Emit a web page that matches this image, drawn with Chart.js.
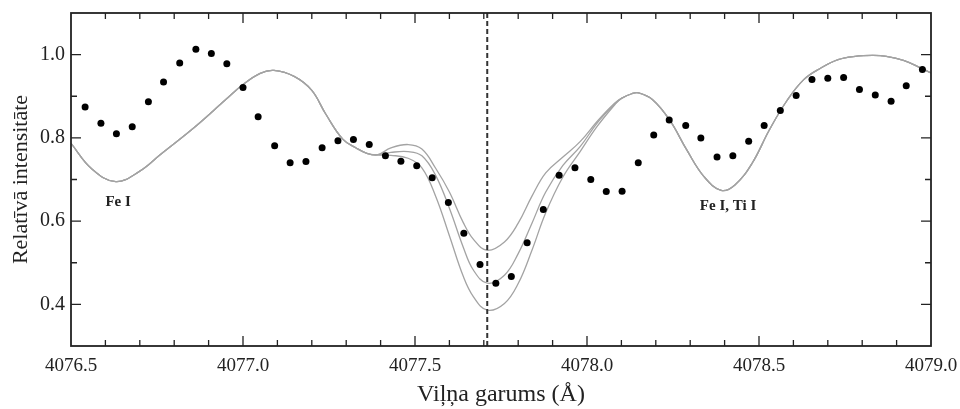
<!DOCTYPE html>
<html lang="lv">
  <head>
    <meta charset="UTF-8" />
    <title>Relatīvā intensitāte</title>
    <script src="https://cdn.jsdelivr.net/npm/chart.js"></script>
    <style>
      body { margin: 0; background: #fff; }
      #spectrum { display: block; }
    </style>
  </head>
  <body>
    <canvas id="spectrum" width="960" height="409"></canvas>

    <script>
      // novērotie punkti
      const obsX = [
        4076.541, 4076.587, 4076.632, 4076.678, 4076.725, 4076.769, 4076.816, 4076.863, 4076.908,
        4076.953, 4077.0, 4077.044, 4077.092, 4077.137, 4077.183, 4077.23, 4077.276, 4077.321,
        4077.367, 4077.414, 4077.459, 4077.505, 4077.55, 4077.597, 4077.642, 4077.689, 4077.735,
        4077.78, 4077.826, 4077.873, 4077.919, 4077.965, 4078.011, 4078.056, 4078.102, 4078.149,
        4078.194, 4078.239, 4078.287, 4078.331, 4078.378, 4078.424, 4078.47, 4078.515, 4078.562,
        4078.608, 4078.654, 4078.7, 4078.746, 4078.792, 4078.838, 4078.884, 4078.928, 4078.975,
      ];
      const obsY = [
        0.874, 0.835, 0.81, 0.827, 0.887, 0.934, 0.98, 1.013, 1.003,
        0.978, 0.921, 0.851, 0.781, 0.74, 0.743, 0.776, 0.793, 0.796,
        0.784, 0.757, 0.744, 0.733, 0.704, 0.645, 0.571, 0.496, 0.451,
        0.467, 0.548, 0.628, 0.71, 0.728, 0.7, 0.671, 0.672, 0.74,
        0.807, 0.843, 0.83, 0.8, 0.754, 0.757, 0.792, 0.83, 0.866,
        0.902, 0.94, 0.943, 0.945, 0.916, 0.903, 0.888, 0.925, 0.964,
      ];

      // modeļa līknes: kopīgā kreisā daļa
      const leftX = [
        4076.5, 4076.56, 4076.63, 4076.7, 4076.76, 4076.86, 4076.95, 4077.0,
        4077.05, 4077.09, 4077.15, 4077.2, 4077.24, 4077.29, 4077.33, 4077.36,
      ];
      const leftY = [
        0.787, 0.726, 0.695, 0.72, 0.76, 0.826, 0.892, 0.928,
        0.955, 0.962, 0.947, 0.914, 0.858, 0.797, 0.775, 0.763,
      ];

      // centrālā līnija, trīs varianti
      const centerX = [
        4077.39, 4077.43, 4077.48, 4077.52, 4077.56, 4077.6, 4077.64, 4077.67, 4077.71,
        4077.76, 4077.8, 4077.84, 4077.88, 4077.93, 4077.98, 4078.03, 4078.08,
      ];
      const shallowY = [
        0.759, 0.776, 0.784, 0.773, 0.727, 0.67, 0.597, 0.556, 0.53,
        0.55, 0.595, 0.66, 0.716, 0.754, 0.791, 0.84, 0.883,
      ];
      const middleY = [
        0.759, 0.765, 0.767, 0.757, 0.71, 0.631, 0.538, 0.482, 0.451,
        0.47, 0.522, 0.595, 0.67, 0.734, 0.779, 0.836, 0.881,
      ];
      const deepY = [
        0.759, 0.758, 0.751, 0.728, 0.66, 0.565, 0.468, 0.418, 0.386,
        0.402, 0.45, 0.53, 0.62, 0.706, 0.767, 0.828, 0.879,
      ];

      // kopīgā labā daļa
      const rightX = [
        4078.1, 4078.13, 4078.15, 4078.19, 4078.24, 4078.29, 4078.34, 4078.39, 4078.43, 4078.48, 4078.53,
        4078.58, 4078.63, 4078.68, 4078.73, 4078.78, 4078.83, 4078.87, 4078.92, 4078.97, 4079.0,
      ];
      const rightY = [
        0.895, 0.906, 0.908, 0.892, 0.843, 0.771, 0.707, 0.674, 0.687, 0.739, 0.819,
        0.888, 0.94, 0.968, 0.988, 0.996, 0.998, 0.996, 0.986, 0.968, 0.956,
      ];

      const xTicks = [4076.5, 4077.0, 4077.5, 4078.0, 4078.5, 4079.0];
      const yTicks = [0.4, 0.6, 0.8, 1.0];
      const lineCenter = 4077.71;
      const lineNames = ["Fe I", "Fe I, Ti I"];
      const lineNameX = [4076.637, 4078.41];
      const lineNameY = [0.646, 0.637];

      const serif = "'Liberation Serif', 'DejaVu Serif', serif";

      const toPoints = (xs, ys) => xs.map((x, i) => ({ x, y: ys[i] }));
      const modelCurve = (centerY) =>
        toPoints(leftX.concat(centerX, rightX), leftY.concat(centerY, rightY));

      const curveStyle = {
        type: "line",
        borderColor: "#a3a3a3",
        borderWidth: 1.3,
        pointRadius: 0,
        fill: false,
        tension: 0.4,
        order: 2,
      };

      // rāmis ar iekšējām atzīmēm un līniju nosaukumi
      const framePlugin = {
        id: "frame",
        afterDatasetsDraw(chart) {
          const { ctx, chartArea: a, scales } = chart;
          const x = scales.x;
          const y = scales.y;
          ctx.save();
          ctx.strokeStyle = "#222";
          ctx.lineWidth = 1.8;
          ctx.strokeRect(a.left, a.top, a.right - a.left, a.bottom - a.top);

          ctx.lineWidth = 1.3;
          ctx.beginPath();
          for (let i = 1; i < 25; i++) {
            const px = x.getPixelForValue(x.min + i * 0.1);
            const len = i % 5 === 0 ? 10 : 6;
            ctx.moveTo(px, a.bottom);
            ctx.lineTo(px, a.bottom - len);
            ctx.moveTo(px, a.top);
            ctx.lineTo(px, a.top + len);
          }
          for (let i = 1; i < 8; i++) {
            const py = y.getPixelForValue(y.min + i * 0.1);
            const len = i % 2 === 1 ? 10 : 6;
            ctx.moveTo(a.left, py);
            ctx.lineTo(a.left + len, py);
            ctx.moveTo(a.right, py);
            ctx.lineTo(a.right - len, py);
          }
          ctx.stroke();

          ctx.fillStyle = "#222";
          ctx.font = "bold 15px " + serif;
          ctx.textAlign = "center";
          ctx.textBaseline = "middle";
          lineNames.forEach((t, i) => {
            ctx.fillText(t, x.getPixelForValue(lineNameX[i]), y.getPixelForValue(lineNameY[i]));
          });
          ctx.restore();
        },
      };

      const ctx = document.getElementById("spectrum").getContext("2d");
      new Chart(ctx, {
        type: "scatter",
        data: {
          datasets: [
            {
              label: "Novērojumi",
              data: toPoints(obsX, obsY),
              backgroundColor: "#000",
              borderWidth: 0,
              pointRadius: 3.5,
              order: 0,
            },
            { ...curveStyle, label: "Modelis 1", data: modelCurve(shallowY) },
            { ...curveStyle, label: "Modelis 2", data: modelCurve(middleY) },
            { ...curveStyle, label: "Modelis 3", data: modelCurve(deepY) },
            {
              type: "line",
              label: "Līnijas centrs",
              data: [
                { x: lineCenter, y: 0.3 },
                { x: lineCenter, y: 1.1 },
              ],
              borderColor: "#333",
              borderWidth: 2,
              borderDash: [5, 3],
              pointRadius: 0,
              order: 1,
            },
          ],
        },
        options: {
          responsive: false,
          animation: false,
          layout: { padding: { top: 13, right: 29, left: 0, bottom: 0 } },
          plugins: { legend: { display: false }, tooltip: { enabled: false } },
          scales: {
            x: {
              type: "linear",
              min: 4076.5,
              max: 4079.0,
              afterFit: (s) => {
                s.height = 63;
                s.paddingLeft = 0;
                s.paddingRight = 0;
              },
              afterBuildTicks: (s) => { s.ticks = xTicks.map((v) => ({ value: v })); },
              grid: { display: false, drawTicks: false },
              border: { display: false },
              ticks: {
                autoSkip: false,
                maxRotation: 0,
                padding: 9,
                color: "#222",
                font: { family: serif, size: 19 },
                callback: (v) => v.toFixed(1),
              },
              title: {
                display: true,
                text: "Viļņa garums (Å)",
                color: "#222",
                font: { family: serif, size: 24 },
                padding: { top: 0, bottom: 0 },
              },
            },
            y: {
              type: "linear",
              min: 0.3,
              max: 1.1,
              afterFit: (s) => {
                s.width = 71;
                s.paddingTop = 0;
                s.paddingBottom = 0;
              },
              afterBuildTicks: (s) => { s.ticks = yTicks.map((v) => ({ value: v })); },
              grid: { display: false, drawTicks: false },
              border: { display: false },
              ticks: {
                padding: 6,
                color: "#222",
                font: { family: serif, size: 20 },
                callback: (v) => v.toFixed(1),
              },
              title: {
                display: true,
                text: "Relatīvā intensitāte",
                color: "#222",
                font: { family: serif, size: 22 },
                padding: { top: 8, bottom: 0 },
              },
            },
          },
        },
        plugins: [framePlugin],
      });
    </script>
  </body>
</html>
